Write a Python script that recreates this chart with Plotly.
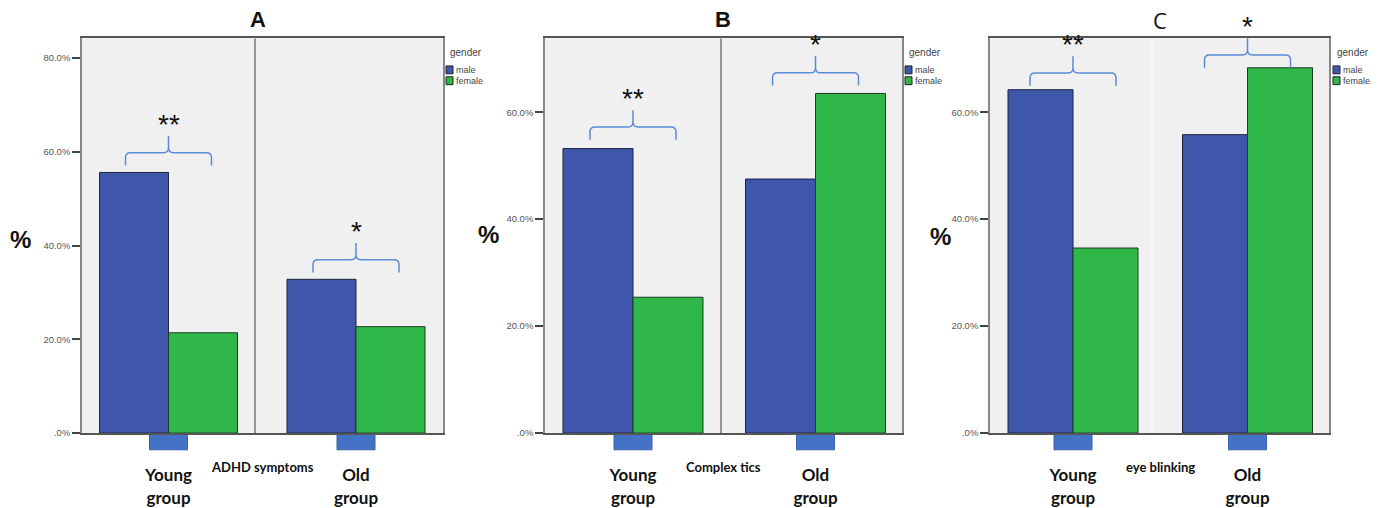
import plotly.graph_objects as go

# ---------------- data ----------------
panel_titles = ["A", "B", "C"]
symptoms = ["ADHD symptoms", "Complex tics", "eye blinking"]
groups = ["Young<br>group", "Old<br>group"]
series_names = ["male", "female"]
male_pct = {"A": [55.6, 32.8], "B": [53.2, 47.5], "C": [64.2, 55.8]}
female_pct = {"A": [21.4, 22.7], "B": [25.4, 63.5], "C": [34.6, 68.3]}
significance = {"A": ["**", "*"], "B": ["**", "*"], "C": ["**", "*"]}
tick_vals = {"A": [0, 20, 40, 60, 80], "B": [0, 20, 40, 60], "C": [0, 20, 40, 60]}
tick_text = {"A": [".0%", "20.0%", "40.0%", "60.0%", "80.0%"],
             "B": [".0%", "20.0%", "40.0%", "60.0%"],
             "C": [".0%", "20.0%", "40.0%", "60.0%"]}
y_max = {"A": 84.2, "B": 73.8, "C": 73.8}

# ---------------- layout constants (pixels) ----------------
W, H = 1381, 508
PLOT_TOP, PLOT_BOTTOM = 39, 440
MALE_COLOR, FEMALE_COLOR = "#3e57aa", "#2fb74a"
BRACE_COLOR = "#5b8bd6"
geom = {
    "A": dict(x0=82, x1=443, c0=168.5, c1=356, div=255, bw=69, title_x=258, title_bold=True,
              pct_x=20, pct_y=243, sub_x=262, legend_x=446, div_color="#777777", gap=[7, 7]),
    "B": dict(x0=545, x1=902, c0=633, c1=815.5, div=721, bw=70, title_x=723, title_bold=True,
              pct_x=488, pct_y=238, sub_x=723, legend_x=905, div_color="#777777", gap=[9, 8]),
    "C": dict(x0=990, x1=1329, c0=1073, c1=1247.5, div=1152, bw=65, title_x=1160, title_bold=False,
              pct_x=940, pct_y=240, sub_x=1160, legend_x=1333, div_color="#fafafa", gap=[4, 0]),
}


def px(p):
    return p / W


def py(p):
    return 1 - p / H


fig = go.Figure()
shapes = []
annotations = []

for i, key in enumerate(panel_titles):
    g = geom[key]
    sfx = "" if i == 0 else str(i + 1)
    xa, ya = "x" + sfx, "y" + sfx
    ppx = g["c1"] - g["c0"]
    bw = g["bw"] / ppx
    xpos = [0, 1]

    fig.add_trace(go.Bar(x=xpos, y=male_pct[key], name=series_names[0], width=bw, offset=-bw,
                         marker=dict(color=MALE_COLOR, line=dict(color="#1c2440", width=1)),
                         xaxis=xa, yaxis=ya, showlegend=False))
    fig.add_trace(go.Bar(x=xpos, y=female_pct[key], name=series_names[1], width=bw, offset=0,
                         marker=dict(color=FEMALE_COLOR, line=dict(color="#1f3d22", width=1)),
                         xaxis=xa, yaxis=ya, showlegend=False))

    xr = [(g["x0"] - g["c0"]) / ppx, (g["x1"] - g["c0"]) / ppx]
    fig.update_layout(**{
        "xaxis" + sfx: dict(domain=[px(g["x0"]), px(g["x1"])], range=xr, anchor=ya,
                            tickvals=xpos, ticktext=groups, ticks="", showgrid=False, zeroline=False,
                            showline=True, linecolor="#555555", linewidth=2, mirror=True,
                            ticklabelstandoff=26,
                            tickfont=dict(family="Lato", size=17, color="#111111", weight="bold")),
        "yaxis" + sfx: dict(domain=[py(PLOT_BOTTOM), py(PLOT_TOP)], range=[0, y_max[key]], anchor=xa,
                            tickvals=tick_vals[key], ticktext=tick_text[key], ticks="outside",
                            ticklen=8, tickwidth=1.5, tickcolor="#444444", showgrid=False,
                            zeroline=False, showline=True, linecolor="#888888", linewidth=1.5,
                            mirror=True, tickfont=dict(family="Liberation Sans", size=9.5, color="#555555")),
    })

    # facet divider
    xd = (g["div"] - g["c0"]) / ppx
    shapes.append(dict(type="line", xref=xa, yref=ya + " domain", x0=xd, x1=xd, y0=0, y1=1,
                       line=dict(color=g["div_color"], width=1.5)))

    # blue markers under each group
    for xc in xpos:
        shapes.append(dict(type="rect", xref=xa, yref="paper",
                           x0=xc - 19 / ppx, x1=xc + 19 / ppx, y0=py(457), y1=py(PLOT_BOTTOM),
                           fillcolor="#4472c4", line=dict(color="#3a62aa", width=1), layer="below"))

    # significance braces (y in axis-domain fractions so they are never clipped)
    yd = ya + " domain"
    plot_h = PLOT_BOTTOM - PLOT_TOP
    for j, xc in enumerate(xpos):
        top = max(male_pct[key][j], female_pct[key][j])
        ye = top / y_max[key] + g["gap"][j] / plot_h
        dx = lambda p: p / ppx
        dy = lambda p: p / plot_h
        half, h, tip, r = 43, 13, 30, 5
        xl, xrr = xc - dx(half), xc + dx(half)
        yh, yt = ye + dy(h), ye + dy(tip)
        path = (f"M {xl},{ye} L {xl},{yh - dy(r)} Q {xl},{yh} {xl + dx(r)},{yh} "
                f"L {xc - dx(r)},{yh} Q {xc},{yh} {xc},{yh + dy(r)} L {xc},{yt} "
                f"M {xc},{yh + dy(r)} Q {xc},{yh} {xc + dx(r)},{yh} "
                f"L {xrr - dx(r)},{yh} Q {xrr},{yh} {xrr},{yh - dy(r)} L {xrr},{ye}")
        shapes.append(dict(type="path", xref=xa, yref=yd, path=path,
                           line=dict(color=BRACE_COLOR, width=1.5)))
        annotations.append(dict(xref=xa, yref=yd, x=xc, y=yt, xanchor="center", yanchor="bottom",
                                yshift=-6, text=significance[key][j], showarrow=False,
                                font=dict(family="Liberation Sans", size=28, color="#111111")))

    # panel title
    annotations.append(dict(xref="paper", yref="paper", x=px(g["title_x"]), y=py(20),
                            xanchor="center", yanchor="middle",
                            text=f"<b>{key}</b>" if g["title_bold"] else key, showarrow=False,
                            font=dict(family="Liberation Sans" if g["title_bold"] else "Open Sans",
                                      size=22, color="#111111")))
    # "%" label
    annotations.append(dict(xref="paper", yref="paper", x=px(g["pct_x"]), y=py(g["pct_y"]),
                            xanchor="center", yanchor="middle",
                            text="<b>%</b>", showarrow=False,
                            font=dict(family="Liberation Sans", size=24, color="#111111")))
    # symptom label
    annotations.append(dict(xref="paper", yref="paper", x=px(g["sub_x"]), y=py(474),
                            xanchor="center", yanchor="middle",
                            text=f"<b>{symptoms[i]}</b>", showarrow=False,
                            font=dict(family="Lato", size=13, color="#111111")))

    # manual legend
    lx = g["legend_x"]
    annotations.append(dict(xref="paper", yref="paper", x=px(lx + 2), y=py(53), xanchor="left",
                            yanchor="middle", text="gender", showarrow=False,
                            font=dict(family="Liberation Sans", size=10, color="#444444")))
    for k, (nm, col) in enumerate(zip(series_names, [MALE_COLOR, FEMALE_COLOR])):
        yc = 71 + 11 * k
        shapes.append(dict(type="rect", xref="paper", yref="paper",
                           x0=px(lx), x1=px(lx + 7), y0=py(yc + 4), y1=py(yc - 4),
                           fillcolor=col, line=dict(color="#222222", width=1)))
        annotations.append(dict(xref="paper", yref="paper", x=px(lx + 8), y=py(yc), xanchor="left",
                                yanchor="middle", text=nm, showarrow=False,
                                font=dict(family="Liberation Sans", size=9, color="#444444")))

fig.update_layout(
    width=W, height=H, margin=dict(l=0, r=0, t=0, b=0),
    paper_bgcolor="white", plot_bgcolor="#f0f0f0",
    barmode="overlay", shapes=shapes, annotations=annotations, showlegend=False,
)

fig.write_html("out.html", config={"displayModeBar": False},
               post_script="document.body.style.margin='0';document.body.style.padding='0';")
